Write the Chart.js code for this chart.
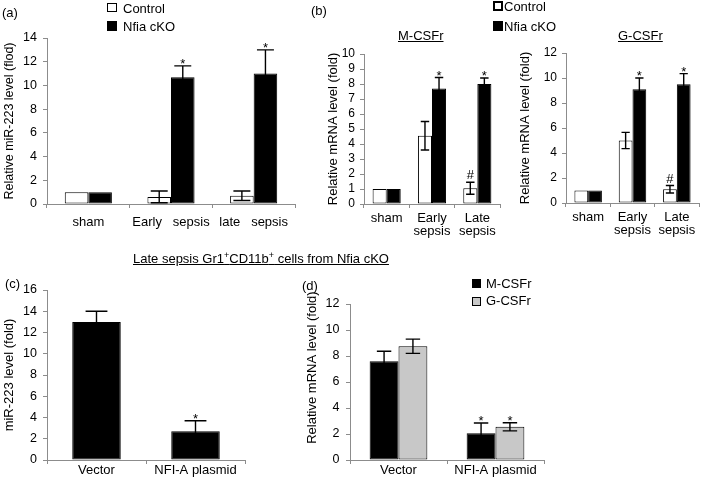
<!DOCTYPE html>
<html><head><meta charset="utf-8">
<script src="https://cdn.jsdelivr.net/npm/chart.js@4.4.1/dist/chart.umd.min.js"></script>
<style>
html,body{margin:0;padding:0;background:#fff}
body{width:702px;height:487px;overflow:hidden;position:relative;font-family:"Liberation Sans",Arial,sans-serif;color:#000}
canvas{position:absolute}
.t{position:absolute;font-size:13px;line-height:13px;white-space:pre}
.box{position:absolute;box-sizing:border-box;border:1.5px solid #000}
sup{font-size:9px;line-height:0;vertical-align:5px}
</style></head><body>
<canvas id="cA" width="300" height="240" style="left:0;top:0"></canvas>
<canvas id="cM" width="187" height="245" style="left:318px;top:0"></canvas>
<canvas id="cG" width="192" height="244" style="left:510px;top:0"></canvas>
<canvas id="cC" width="250" height="237" style="left:0;top:250px"></canvas>
<canvas id="cD" width="252" height="237" style="left:296px;top:250px"></canvas>

<div class="t" style="left:2px;top:6px">(a)</div>
<div class="box" style="left:107px;top:3px;width:10px;height:9px;background:#fff"></div>
<div class="t" style="left:123px;top:2px">Control</div>
<div class="box" style="left:107px;top:21px;width:10px;height:10px;background:#000"></div>
<div class="t" style="left:123px;top:19.5px">Nfia cKO</div>

<div class="t" style="left:311px;top:4px">(b)</div>
<div class="box" style="left:493px;top:1px;width:10px;height:10px;background:#fff;border-width:2px"></div>
<div class="t" style="left:504px;top:0px">Control</div>
<div class="box" style="left:493px;top:21px;width:10px;height:10px;background:#000"></div>
<div class="t" style="left:504px;top:19.5px">Nfia cKO</div>
<div class="t" style="left:398px;top:28.5px;text-decoration:underline">M-CSFr</div>
<div class="t" style="left:618px;top:28.5px;text-decoration:underline">G-CSFr</div>

<div class="t" style="left:133px;top:251.5px;text-decoration:underline">Late sepsis Gr1<sup>+</sup>CD11b<sup>+</sup> cells from Nfia cKO</div>
<div class="t" style="left:5px;top:277px">(c)</div>
<div class="t" style="left:302px;top:279px">(d)</div>
<div class="box" style="left:472px;top:279px;width:9px;height:9px;background:#000"></div>
<div class="t" style="left:486px;top:276.5px">M-CSFr</div>
<div class="box" style="left:472px;top:296.5px;width:9px;height:9px;background:#c8c8c8"></div>
<div class="t" style="left:486px;top:294px">G-CSFr</div>

<script>
// ---- data: panel (a) ----
const categoriesA = ['sham', 'Early   sepsis', 'late   sepsis'];
const controlA = [1.0, 0.6, 0.7];
const controlErrA = [0, 0.5, 0.4];
const nfiaA = [1.0, 10.7, 11.0];
const nfiaErrA = [0, 0.95, 2.0];
const nfiaMarkA = ['', '*', '*'];

// ---- data: panel (b) ----
const categoriesB = [['sham'], ['Early', 'sepsis'], ['Late', 'sepsis']];
const controlM = [1.0, 4.55, 1.05];
const controlErrM = [0, 0.95, 0.4];
const controlMarkM = ['', '', '#'];
const nfiaM = [1.0, 7.7, 8.0];
const nfiaErrM = [0, 0.73, 0.4];
const nfiaMarkM = ['', '*', '*'];
const controlG = [1.0, 5.0, 1.1];
const controlErrG = [0, 0.65, 0.3];
const controlMarkG = ['', '', '#'];
const nfiaG = [1.0, 9.1, 9.5];
const nfiaErrG = [0, 0.9, 0.85];
const nfiaMarkG = ['', '*', '*'];

// ---- data: panel (c) ----
const categoriesC = ['Vector', 'NFI-A plasmid'];
const mirC = [13.0, 2.7];
const mirErrC = [1.0, 1.0];
const mirMarkC = ['', '*'];

// ---- data: panel (d) ----
const categoriesD = ['Vector', 'NFI-A plasmid'];
const mcsfD = [7.6, 2.05];
const mcsfErrD = [0.77, 0.8];
const mcsfMarkD = ['', '*'];
const gcsfD = [8.75, 2.55];
const gcsfErrD = [0.55, 0.31];
const gcsfMarkD = ['', '*'];

Chart.defaults.font.family = '"Liberation Sans", Arial, sans-serif';
Chart.defaults.color = '#000';

const errorBarPlugin = {
  id: 'errorBars',
  afterDatasetsDraw(chart, args, opts) {
    const ctx = chart.ctx;
    const ys = chart.scales.y;
    ctx.save();
    chart.data.datasets.forEach((ds, di) => {
      const meta = chart.getDatasetMeta(di);
      meta.data.forEach((bar, i) => {
        const v = ds.data[i];
        const e = (ds.errors || [])[i] || 0;
        const top = ys.getPixelForValue(v + e);
        if (e > 0) {
          const bot = ys.getPixelForValue(v - e);
          const hw = bar.width * opts.cap / 2;
          ctx.strokeStyle = '#000';
          ctx.lineWidth = opts.lineWidth;
          ctx.beginPath();
          ctx.moveTo(bar.x, top); ctx.lineTo(bar.x, bot);
          ctx.moveTo(bar.x - hw, top); ctx.lineTo(bar.x + hw, top);
          ctx.moveTo(bar.x - hw, bot); ctx.lineTo(bar.x + hw, bot);
          ctx.stroke();
        }
        const m = (ds.marks || [])[i];
        if (m) {
          ctx.fillStyle = '#000';
          ctx.font = '13px "Liberation Sans", Arial, sans-serif';
          ctx.textAlign = 'center';
          ctx.textBaseline = 'alphabetic';
          ctx.fillText(m, bar.x, m === '*' ? top + 2 : top - 3);
        }
      });
    });
    ctx.restore();
  }
};

const AXIS = '#8c8c8c';
function makeChart(id, c) {
  return new Chart(document.getElementById(id), {
    type: 'bar',
    data: { labels: c.labels, datasets: c.datasets },
    options: {
      responsive: false, animation: false, devicePixelRatio: 1,
      layout: { padding: { top: c.padTop, right: c.padRight, left: 0, bottom: 0 } },
      plugins: { legend: { display: false }, tooltip: { enabled: false },
                 errorBars: { cap: c.cap, lineWidth: 1.4 } },
      datasets: { bar: { categoryPercentage: c.catPct, barPercentage: 1, borderWidth: 1,
                         borderColor: '#000', borderSkipped: false } },
      scales: {
        x: {
          grid: { drawOnChartArea: false, tickLength: 4, color: AXIS, offset: true },
          border: { color: AXIS, width: 1 },
          ticks: { color: '#000', font: { size: 13, lineHeight: c.xLineHeight }, padding: c.xPad,
                   maxRotation: 0, autoSkip: false },
          afterFit(s) { s.height = c.xHeight; }
        },
        y: {
          min: 0, max: c.max,
          ticks: { stepSize: c.step, autoSkip: false, color: '#000', font: { size: c.yTickSize }, padding: c.yPad },
          grid: { drawOnChartArea: false, tickLength: 4, color: AXIS },
          border: { color: AXIS, width: 1 },
          title: { display: true, text: c.yTitle, color: '#000',
                   font: { size: c.titleSize, lineHeight: 1.2 }, padding: { top: c.titlePad, bottom: 0 } },
          afterFit(s) { s.width = c.yWidth; }
        }
      }
    },
    plugins: [errorBarPlugin]
  });
}

makeChart('cA', {
  labels: categoriesA,
  datasets: [
    { label: 'Control', data: controlA, errors: controlErrA, backgroundColor: '#fff' },
    { label: 'Nfia cKO', data: nfiaA, errors: nfiaErrA, marks: nfiaMarkA, backgroundColor: '#000' }
  ],
  padTop: 38, padRight: 5, yWidth: 47, xHeight: 36, catPct: 0.57, cap: 0.72,
  max: 14, step: 2, yTickSize: 12.5, yPad: 6, xPad: 7, xLineHeight: 1.2,
  yTitle: 'Relative miR-223 level (flod)', titleSize: 12.5, titlePad: 2
});

makeChart('cM', {
  labels: categoriesB,
  datasets: [
    { label: 'Control', data: controlM, errors: controlErrM, marks: controlMarkM, backgroundColor: '#fff' },
    { label: 'Nfia cKO', data: nfiaM, errors: nfiaErrM, marks: nfiaMarkM, backgroundColor: '#000' }
  ],
  padTop: 54, padRight: 5, yWidth: 46, xHeight: 41, catPct: 0.62, cap: 0.6,
  max: 10, step: 1, yTickSize: 12, yPad: 5, xPad: 4, xLineHeight: 1.0,
  yTitle: 'Relative mRNA level (fold)', titleSize: 13, titlePad: 8
});

makeChart('cG', {
  labels: categoriesB,
  datasets: [
    { label: 'Control', data: controlG, errors: controlErrG, marks: controlMarkG, backgroundColor: '#fff' },
    { label: 'Nfia cKO', data: nfiaG, errors: nfiaErrG, marks: nfiaMarkG, backgroundColor: '#000' }
  ],
  padTop: 53, padRight: 3, yWidth: 56, xHeight: 41, catPct: 0.62, cap: 0.6,
  max: 12, step: 2, yTickSize: 12, yPad: 5, xPad: 4, xLineHeight: 1.0,
  yTitle: 'Relative mRNA level (fold)', titleSize: 13, titlePad: 8
});

makeChart('cC', {
  labels: categoriesC,
  datasets: [
    { label: 'miR-223', data: mirC, errors: mirErrC, marks: mirMarkC, backgroundColor: '#000' }
  ],
  padTop: 40, padRight: 5, yWidth: 47, xHeight: 27, catPct: 0.49, cap: 0.45,
  max: 16, step: 2, yTickSize: 12.5, yPad: 6, xPad: 0, xLineHeight: 1.0,
  yTitle: 'miR-223 level (fold)', titleSize: 13, titlePad: 1.5
});

makeChart('cD', {
  labels: categoriesD,
  datasets: [
    { label: 'M-CSFr', data: mcsfD, errors: mcsfErrD, marks: mcsfMarkD, backgroundColor: '#000' },
    { label: 'G-CSFr', data: gcsfD, errors: gcsfErrD, marks: gcsfMarkD, backgroundColor: '#c8c8c8' }
  ],
  padTop: 54, padRight: 4, yWidth: 54, xHeight: 27, catPct: 0.595, cap: 0.5,
  max: 12, step: 2, yTickSize: 12.5, yPad: 6.5, xPad: 0, xLineHeight: 1.0,
  yTitle: '        Relative mRNA level (fold)', titleSize: 13, titlePad: 9
});
</script>
</body></html>
